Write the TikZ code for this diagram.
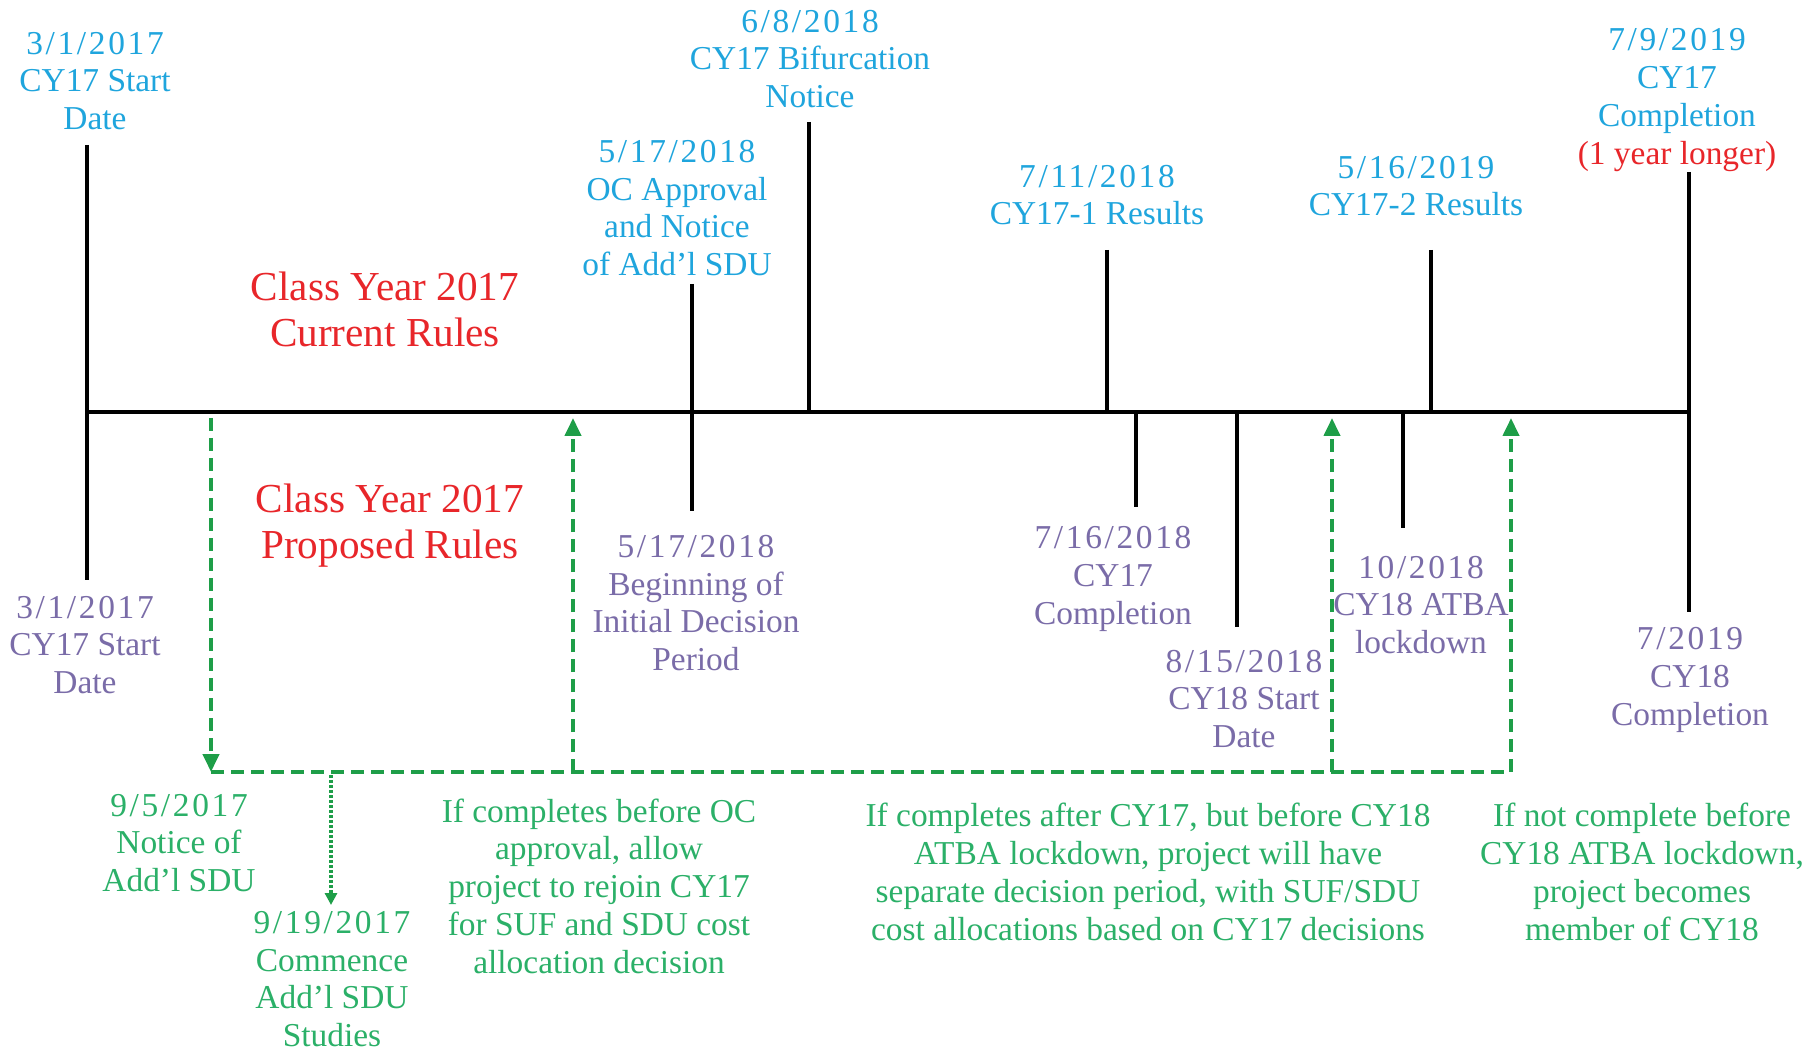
\documentclass[tikz,border=0pt]{standalone}
\usepackage{fontspec}
\setmainfont{Liberation Serif}
\newfontfamily\datefont{Liberation Serif}[LetterSpace=8]
\newcommand{\dt}[1]{{\datefont #1}}
\usetikzlibrary{arrows.meta}
\definecolor{tblue}{HTML}{1FA5DD}
\definecolor{tpurp}{HTML}{7A6CA8}
\definecolor{tgreen}{HTML}{2BB068}
\definecolor{lgreen}{HTML}{1E9E48}
\definecolor{tred}{HTML}{E8262A}
\begin{document}
\begin{tikzpicture}[x=0.5pt,y=-0.5pt,
  lab/.style={align=center, font=\fontsize{16.7}{18.9}\selectfont, inner sep=0pt},
  toplab/.style={lab, text=tblue},
  botlab/.style={lab, text=tpurp},
  grnlab/.style={lab, text=tgreen},
  rulelab/.style={align=center, text=tred, font=\fontsize{20.6}{23}\selectfont, inner sep=0pt},
  tickline/.style={line width=1.8pt, black},
  axisline/.style={line width=2.2pt, black},
  gdash/.style={draw=lgreen, line width=2pt, dash pattern=on 6.5pt off 3.5pt},
  garrow/.style={gdash, -{Triangle[length=9pt,width=8pt]}},
  gdot/.style={draw=lgreen, line width=2pt, dash pattern=on 1.5pt off 1pt, -{Triangle[length=6pt,width=6pt]}}
]
\useasboundingbox (0,0) rectangle (1820,1053);
\fill[white] (0,0) rectangle (1820,1053);

% axis
\coordinate (axL) at (87,412);
\coordinate (axR) at (1689,412);
\draw[axisline] (axL) -- (axR);

% tick coordinates
\coordinate (k1a) at (87,145);   \coordinate (k1b) at (87,580);
\coordinate (k2a) at (692,284);  \coordinate (k2b) at (692,511);
\coordinate (k3a) at (809,122);  \coordinate (k3b) at (809,412);
\coordinate (k4a) at (1107,250); \coordinate (k4b) at (1107,412);
\coordinate (k5a) at (1431,250); \coordinate (k5b) at (1431,412);
\coordinate (k6a) at (1689,172); \coordinate (k6b) at (1689,612);
\coordinate (k7a) at (1136,412); \coordinate (k7b) at (1136,507);
\coordinate (k8a) at (1237,412); \coordinate (k8b) at (1237,627);
\coordinate (k9a) at (1403,412); \coordinate (k9b) at (1403,528);
\foreach \k in {1,...,9} {\draw[tickline] (k\k a) -- (k\k b);}

% top labels
\node[toplab] (t1) at (95,81) {\dt{3/1/2017}\\CY17 Start\\Date};
\node[toplab] (t2) at (677,208) {\dt{5/17/2018}\\OC Approval\\and Notice\\of Add’l SDU};
\node[toplab] (t3) at (810,59) {\dt{6/8/2018}\\CY17 Bifurcation\\Notice};
\node[toplab] (t4) at (1097,195) {\dt{7/11/2018}\\CY17-1 Results};
\node[toplab] (t5) at (1416,186) {\dt{5/16/2019}\\CY17-2 Results};
\node[toplab] (t6) at (1677,100) {\dt{7/9/2019}\\CY17\\Completion\\\textcolor{tred}{(1 year longer)}};

% rules labels
\node[rulelab] (r1) at (385,309) {Class Year 2017\\Current Rules};
\node[rulelab] (r2) at (390,526) {Class Year 2017\\Proposed Rules};

% bottom labels
\node[botlab] (b1) at (85,645) {\dt{3/1/2017}\\CY17 Start\\Date};
\node[botlab] (b2) at (696,603) {\dt{5/17/2018}\\Beginning of\\Initial Decision\\Period};
\node[botlab] (b3) at (1113,579) {\dt{7/16/2018}\\CY17\\Completion};
\node[botlab] (b4) at (1244,699) {\dt{8/15/2018}\\CY18 Start\\Date};
\node[botlab] (b5) at (1421,605) {\dt{10/2018}\\CY18 ATBA\\lockdown};
\node[botlab] (b6) at (1690,680) {\dt{7/2019}\\CY18\\Completion};

% green paths
\coordinate (gA) at (211,418);  \coordinate (gAb) at (211,772);
\coordinate (gB) at (573,418);  \coordinate (gBb) at (573,772);
\coordinate (gC) at (1332,418); \coordinate (gCb) at (1332,772);
\coordinate (gD) at (1511,418); \coordinate (gDb) at (1511,772);
\coordinate (gE) at (331,775);  \coordinate (gEb) at (331,905);
\draw[gdash] (gAb) -- (gDb);
\draw[garrow] (gA) -- (gAb);
\draw[garrow] (gBb) -- (gB);
\draw[garrow] (gCb) -- (gC);
\draw[garrow] (gDb) -- (gD);
\draw[gdot] (gE) -- (gEb);

% green labels
\node[grnlab] (g1) at (179,843) {\dt{9/5/2017}\\Notice of\\Add’l SDU};
\node[grnlab] (g2) at (332,979) {\dt{9/19/2017}\\Commence\\Add’l SDU\\Studies};
\node[grnlab] (g3) at (599,886) {If completes before OC\\approval, allow\\project to rejoin CY17\\for SUF and SDU cost\\allocation decision};
\node[grnlab] (g4) at (1148,872) {If completes after CY17, but before CY18\\ATBA lockdown, project will have\\separate decision period, with SUF/SDU\\cost allocations based on CY17 decisions};
\node[grnlab] (g5) at (1642,872) {If not complete before\\CY18 ATBA lockdown,\\project becomes\\member of CY18};
\end{tikzpicture}
\end{document}
